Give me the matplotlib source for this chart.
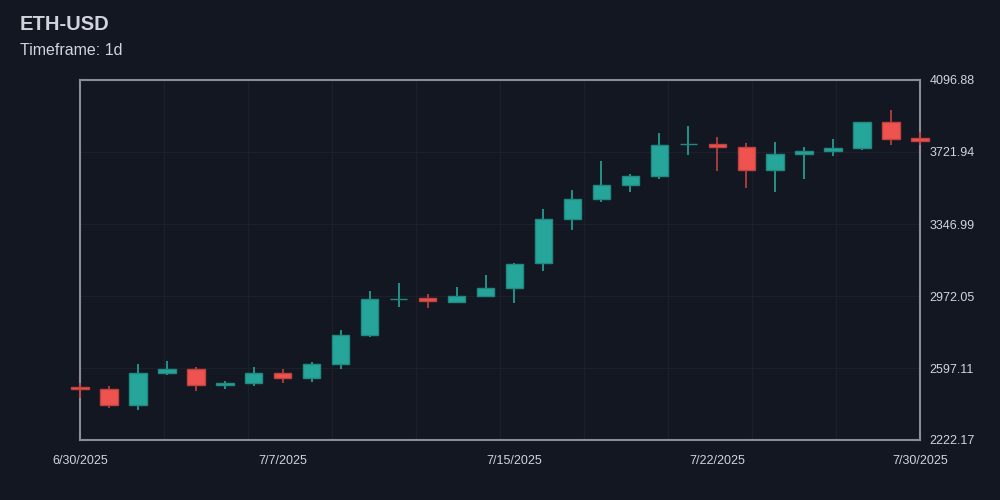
import numpy as np
import matplotlib
matplotlib.use("Agg")
import matplotlib.pyplot as plt

plt.rcParams['font.family'] = ['Liberation Sans', 'DejaVu Sans']

# daily candles, 6/30/2025 .. 7/30/2025 (one day missing in the feed)
dates = ["6/30/2025", "7/1/2025", "7/2/2025", "7/3/2025", "7/4/2025", "7/5/2025",
         "7/6/2025", "7/7/2025", "7/8/2025", "7/9/2025", "7/10/2025", "7/11/2025",
         "7/12/2025", "7/13/2025", "7/14/2025", "7/15/2025", "7/16/2025", "7/17/2025",
         "7/18/2025", "7/19/2025", "7/20/2025", "7/21/2025", "7/22/2025", "7/23/2025",
         "7/24/2025", "7/25/2025", "7/27/2025", "7/28/2025", "7/29/2025", "7/30/2025"]

opens = [2499.7, 2487.7, 2406.0, 2572.6, 2591.9, 2510.2, 2517.4, 2571.1, 2543.5, 2616.4,
         2771.0, 2957.0, 2960.1, 2942.4, 2973.6, 3015.3, 3142.3, 3371.5, 3475.6, 3550.1,
         3595.4, 3762.0, 3763.6, 3749.5, 3629.8, 3710.0, 3728.7, 3741.2, 3876.6, 3794.8]
highs = [2519.0, 2501.8, 2617.9, 2635.1, 2602.3, 2529.4, 2602.3, 2590.3, 2628.4, 2795.0,
         2998.1, 3039.8, 2982.5, 3018.9, 3081.4, 3143.9, 3423.6, 3524.1, 3675.1, 3608.9,
         3820.9, 3857.3, 3800.0, 3767.2, 3772.4, 3746.4, 3789.6, 3876.6, 3940.7, 3827.7]
lows = [2440.9, 2390.4, 2378.4, 2559.1, 2475.8, 2487.7, 2503.4, 2517.4, 2525.8, 2591.9,
        2758.5, 2916.3, 2908.0, 2937.2, 2965.3, 2935.6, 3103.8, 3315.8, 3463.1, 3515.2,
        3582.9, 3706.3, 3624.6, 3532.9, 3515.2, 3579.8, 3702.7, 3733.9, 3756.8, 3758.4]
closes = [2489.3, 2406.0, 2571.1, 2591.9, 2508.6, 2517.4, 2571.1, 2543.5, 2616.4, 2771.0,
          2956.4, 2958.0, 2944.5, 2973.6, 3013.7, 3140.3, 3371.5, 3477.2, 3550.1, 3597.0,
          3760.0, 3764.0, 3749.5, 3629.8, 3710.0, 3727.2, 3741.2, 3876.6, 3788.1, 3780.8]

y_ticks = [2222.17, 2597.11, 2972.05, 3346.99, 3721.94, 4096.88]
label_idx = [0, 7, 15, 22, 29]

BG = "#131722"
UP, DOWN = "#26a69a", "#ef5350"
UP_EDGE, DOWN_EDGE = "#1f8a80", "#c0423f"
TXT = "#d1d4dc"

fig = plt.figure(figsize=(10, 5), dpi=100, facecolor=BG)
ax = fig.add_axes([0.08, 0.12, 0.84, 0.72], facecolor=BG)

x = np.arange(len(dates))
for i in x:
    o, h, l, c = opens[i], highs[i], lows[i], closes[i]
    up = c >= o
    col = UP if up else DOWN
    edge = UP_EDGE if up else DOWN_EDGE
    ax.vlines(i, l, h, color=col if up else DOWN_EDGE, lw=1.2, zorder=3, clip_on=False)
    bot = min(o, c)
    hgt = max(abs(c - o), 0.5)
    ax.bar(i, hgt, bottom=bot, width=0.6, color=col, edgecolor=edge, lw=1,
           zorder=4, clip_on=False)

ax.set_xlim(0, len(dates) - 1)
ax.set_ylim(y_ticks[0], y_ticks[-1])

ax.set_xticks(label_idx)
ax.set_xticklabels([dates[i] for i in label_idx])
ax.set_xticks(np.linspace(0, len(dates) - 1, 11), minor=True)
ax.set_yticks(y_ticks)
ax.set_yticklabels(["%.2f" % v for v in y_ticks])
ax.yaxis.tick_right()

ax.tick_params(axis='both', which='both', length=0, colors=TXT, labelsize=9)
ax.tick_params(axis='x', pad=11)
ax.tick_params(axis='y', pad=7)
ax.grid(False)
ax.grid(True, which='minor', axis='x', color="#1c202b", lw=1, zorder=0)
ax.grid(True, which='major', axis='y', color="#1c202b", lw=1, zorder=0)

for s in ax.spines.values():
    s.set_color("#8a8d96")
    s.set_linewidth(1.5)

fig.text(0.02, 0.94, "ETH-USD", color=TXT, fontsize=14.5, fontweight='bold', va='baseline')
fig.text(0.02, 0.89, "Timeframe: 1d", color=TXT, fontsize=11.5, va='baseline')

fig.savefig("out.png", dpi=100, facecolor=BG)
